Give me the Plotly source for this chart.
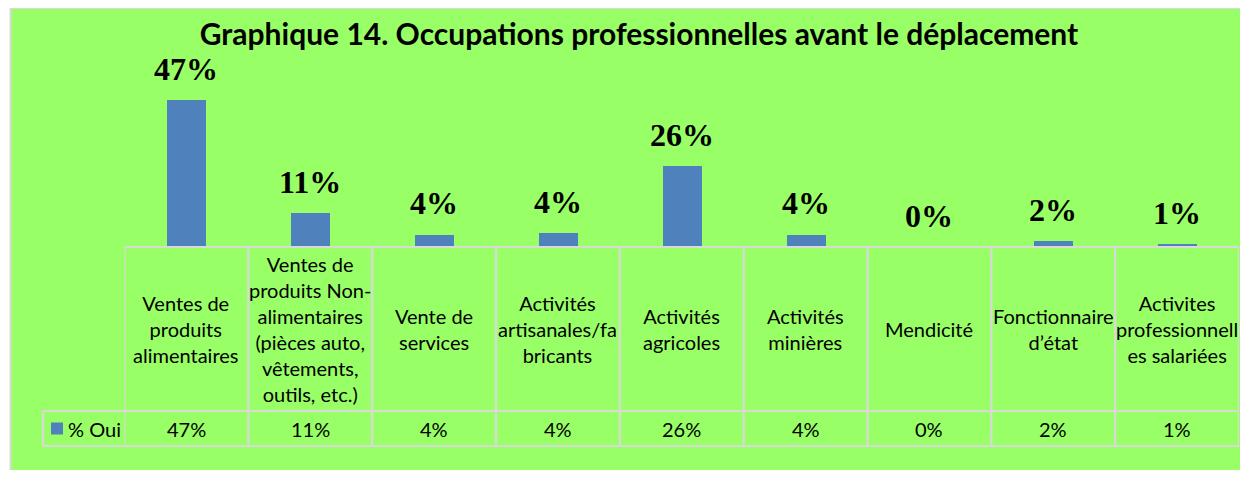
import plotly.graph_objects as go

# ---------------- data ----------------
categories = [
    "Ventes de produits alimentaires",
    "Ventes de produits Non-alimentaires (pièces auto, vêtements, outils, etc.)",
    "Vente de services",
    "Activités artisanales/fabricants",
    "Activités agricoles",
    "Activités minières",
    "Mendicité",
    "Fonctionnaire d’état",
    "Activites professionnelles salariées",
]
category_labels = [
    "Ventes de<br>produits<br>alimentaires",
    "Ventes de<br>produits Non-<br>alimentaires<br>(pièces auto,<br>vêtements,<br>outils, etc.)",
    "Vente de<br>services",
    "Activités<br>artisanales/fa<br>bricants",
    "Activités<br>agricoles",
    "Activités<br>minières",
    "Mendicité",
    "Fonctionnaire<br>d’état",
    "Activites<br>professionnell<br>es salariées",
]
values_oui = [0.47, 0.11, 0.04, 0.045, 0.26, 0.04, 0.0, 0.02, 0.01]
value_labels = ["47%", "11%", "4%", "4%", "26%", "4%", "0%", "2%", "1%"]
series_name = "% Oui"
title_text = "Graphique 14. Occupations professionnelles avant le déplacement"

# ---------------- styling ----------------
OFF = 8                      # page body margin of the html page (all sides)
W, H = 1248 - 2 * OFF, 478 - 2 * OFF
GREEN = "#99FF66"
BLUE = "#4F81BD"
GRID = "#D9D9D9"
SANS = "Lato"
SERIF = "Liberation Serif"


def px_x(p):
    """screen pixel x -> paper fraction"""
    return (p - OFF) / W


def px_y(p):
    """screen pixel y -> paper fraction"""
    return 1 - (p - OFF) / H


plot_left, plot_right = 124.5, 1239
baseline_px, top_px = 247, 90.5
row1_bottom, row2_bottom = 411, 446
legend_left = 43

fig = go.Figure()
fig.add_trace(go.Bar(
    x=categories, y=values_oui, name=series_name,
    marker=dict(color=BLUE, line=dict(width=0)),
    width=0.314, showlegend=False,
))

annotations = []
# data labels above bars
for c, v, t in zip(categories, values_oui, value_labels):
    annotations.append(dict(
        x=c, y=v, xref="x", yref="y", text=t, showarrow=False,
        yanchor="bottom", yshift=11,
        font=dict(family=SERIF, size=32, color="black", weight="bold"),
    ))
# table: category row
for c, lab in zip(categories, category_labels):
    annotations.append(dict(
        x=c, y=px_y((baseline_px + row1_bottom) / 2), xref="x", yref="paper",
        text=lab, showarrow=False, yanchor="middle", xanchor="center",
        font=dict(family=SANS, size=20, color="black"),
    ))
# table: value row
for c, t in zip(categories, value_labels):
    annotations.append(dict(
        x=c, y=px_y((row1_bottom + row2_bottom) / 2), xref="x", yref="paper",
        text=t, showarrow=False, yanchor="middle", xanchor="center",
        font=dict(family=SANS, size=20, color="black"),
    ))
# legend key text in the table
annotations.append(dict(
    x=px_x(66), y=px_y((row1_bottom + row2_bottom) / 2), xref="paper", yref="paper",
    text=series_name, showarrow=False, yanchor="middle", xanchor="left",
    font=dict(family=SANS, size=20, color="black"),
))

shapes = []
# green chart area and its border
shapes.append(dict(type="rect", xref="paper", yref="paper",
                   x0=px_x(11), x1=1.01, y0=-0.01, y1=1.01,
                   fillcolor=GREEN, line=dict(width=0), layer="below"))
shapes.append(dict(type="line", xref="paper", yref="paper",
                   x0=px_x(10.5), x1=px_x(10.5), y0=-0.01, y1=1.01,
                   line=dict(color=GRID, width=2), layer="below"))
shapes.append(dict(type="line", xref="paper", yref="paper",
                   x0=px_x(10), x1=1.01, y0=1 - 0.5 / H, y1=1 - 0.5 / H,
                   line=dict(color=GRID, width=1), layer="below"))
# table grid
ln = dict(color=GRID, width=2.2)
shapes.append(dict(type="line", xref="x", yref="paper", x0=-0.5, x1=len(categories) - 0.5,
                   y0=px_y(baseline_px), y1=px_y(baseline_px), line=ln))
for yy in (row1_bottom, row2_bottom):
    shapes.append(dict(type="line", xref="paper", yref="paper",
                       x0=px_x(legend_left), x1=px_x(plot_right),
                       y0=px_y(yy), y1=px_y(yy), line=ln))
for i in range(len(categories) + 1):
    shapes.append(dict(type="line", xref="x", yref="paper", x0=i - 0.5, x1=i - 0.5,
                       y0=px_y(baseline_px), y1=px_y(row2_bottom), line=ln))
shapes.append(dict(type="line", xref="paper", yref="paper",
                   x0=px_x(legend_left), x1=px_x(legend_left),
                   y0=px_y(row1_bottom), y1=px_y(row2_bottom), line=ln))
# legend key square
shapes.append(dict(type="rect", xref="paper", yref="paper",
                   x0=px_x(51), x1=px_x(63),
                   y0=px_y(434.5), y1=px_y(422.5),
                   fillcolor=BLUE, line=dict(width=0)))

fig.update_layout(
    width=W, height=H,
    margin=dict(l=0, r=0, t=0, b=0),
    paper_bgcolor="white", plot_bgcolor="rgba(0,0,0,0)",
    title=dict(text=title_text, x=px_x(639), xanchor="center", xref="paper",
               y=px_y(34), yanchor="middle", yref="paper",
               font=dict(family=SANS, size=30, color="black", weight="bold")),
    xaxis=dict(domain=[px_x(plot_left), px_x(plot_right)], range=[-0.5, len(categories) - 0.5],
               showticklabels=False, showgrid=False, zeroline=False, showline=False, ticks=""),
    yaxis=dict(domain=[px_y(baseline_px), px_y(top_px)], range=[0, 0.5],
               showticklabels=False, showgrid=False, zeroline=False, showline=False, ticks=""),
    showlegend=False,
    annotations=annotations,
    shapes=shapes,
    bargap=0,
)

fig.write_html("out.html")
